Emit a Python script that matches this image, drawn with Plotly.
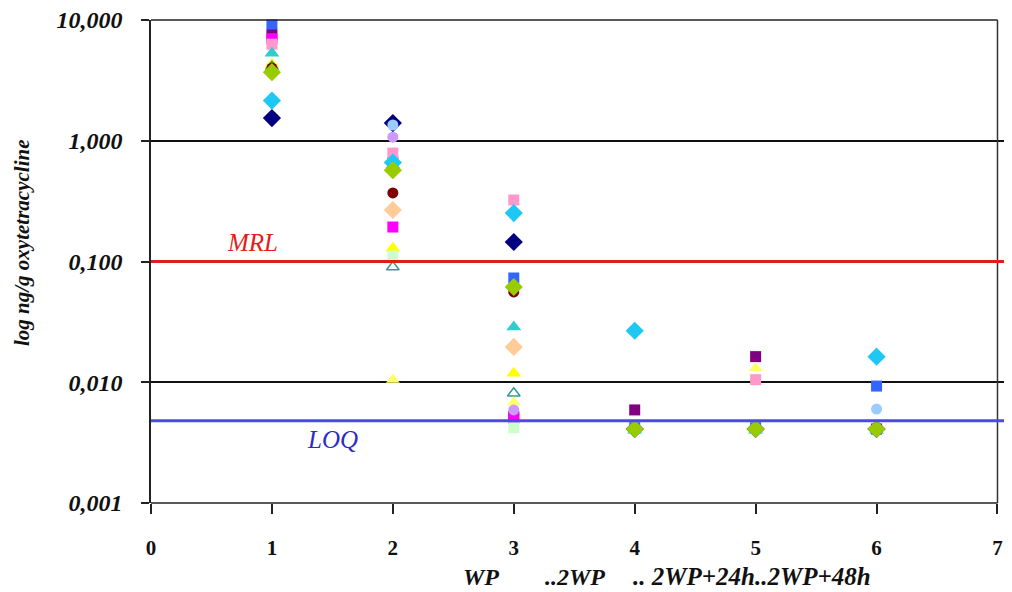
import math
import plotly.graph_objects as go

# ---- data ----
x_points = [1, 2, 3, 4, 5, 6]
x_ticks = [0, 1, 2, 3, 4, 5, 6, 7]
y_ticks = [0.001, 0.01, 0.1, 1, 10]
y_ticktext = ["0,001", "0,010", "0,100", "1,000", "10,000"]
mrl_value = 0.1
loq_value = 0.0048

navy = [1.54, 1.40, 0.145, 0.0041, 0.0041, 0.0041]
blue_sq = [9.1, 0.66, 0.073, 0.0042, 0.0042, 0.0093]
purple_sq = [7.5, None, 0.0052, 0.0059, 0.0163, 0.0041]
magenta_sq = [7.0, 0.193, 0.0050, None, None, None]
pink_sq = [6.3, 0.79, 0.323, None, 0.0105, None]
teal_tri = [5.3, 0.63, 0.0287, 0.0040, 0.0040, 0.0040]
yellow_tri = [4.3, 0.129, 0.0119, None, None, None]
open_tri = [4.1, 0.090, 0.0081, None, None, None]
lightyellow_tri = [None, 0.0105, 0.0068, None, 0.0131, None]
lavender_c = [None, 1.07, 0.0059, None, None, None]
lightblue_c = [None, 1.35, None, None, None, 0.0060]
darkred_c = [4.0, 0.37, 0.056, None, None, None]
peach_d = [None, 0.267, 0.0196, None, None, None]
lightgreen_sq = [None, 0.111, 0.0042, None, None, None]
cyan_d = [2.15, 0.66, 0.252, 0.0267, None, 0.0163]
yellowgreen_d = [3.7, 0.57, 0.0615, 0.0041, 0.0041, 0.0041]

series = [
    (navy, "#000080", "diamond", 14),
    (blue_sq, "#3366FF", "square", 11),
    (purple_sq, "#800080", "square", 11),
    (magenta_sq, "#FF00FF", "square", 11),
    (pink_sq, "#FF99CC", "square", 11),
    (teal_tri, "#33CCCC", "triangle-up", 13),
    (yellow_tri, "#FFFF00", "triangle-up", 13),
    (open_tri, "#339999", "triangle-up-open", 11),
    (lightyellow_tri, "#FFFF66", "triangle-up", 12),
    (lavender_c, "#CC99FF", "circle", 11),
    (lightblue_c, "#99CCFF", "circle", 11),
    (darkred_c, "#800000", "circle", 11),
    (peach_d, "#FFCC99", "diamond", 14),
    (lightgreen_sq, "#CCFFCC", "square", 11),
    (cyan_d, "#1EC8F5", "diamond", 14),
    (yellowgreen_d, "#99CC00", "diamond", 14),
]

fig = go.Figure()
for vals, color, sym, size in series:
    xs = [x for x, v in zip(x_points, vals) if v is not None]
    ys = [v for v in vals if v is not None]
    fig.add_trace(go.Scatter(
        x=xs, y=ys, mode="markers",
        marker=dict(symbol=sym, color=color, size=size,
                    line=dict(width=1.5 if "open" in sym else 0, color=color)),
        showlegend=False, cliponaxis=False,
    ))

serif = '"Liberation Serif", "Times New Roman", Times, serif'
axis_col = "#222222"

# frame: top and bottom edges end at x = 7, right border at x = 7
fig.add_shape(type="line", xref="x", yref="paper", x0=0, x1=7, y0=1, y1=1,
              line=dict(color=axis_col, width=1.5))
fig.add_shape(type="line", xref="x", yref="paper", x0=0, x1=7, y0=0, y1=0,
              line=dict(color=axis_col, width=1.5))
fig.add_shape(type="line", xref="x", yref="paper", x0=7, x1=7, y0=0, y1=1,
              line=dict(color="#333333", width=1.5))

# reference lines
fig.add_shape(type="line", xref="x", yref="y", x0=0, x1=7.12, y0=mrl_value, y1=mrl_value,
              line=dict(color="#DD1F1A", width=3), layer="above")
fig.add_shape(type="line", xref="x", yref="y", x0=0, x1=7.12, y0=loq_value, y1=loq_value,
              line=dict(color="#4A4AE6", width=3), layer="above")

fig.add_annotation(x=0.84, y=math.log10(mrl_value), xref="x", yref="y", yshift=19,
                   text="<i>MRL</i>", showarrow=False,
                   font=dict(family=serif, size=25, color="#DD1F1A"))
fig.add_annotation(x=1.5, y=math.log10(loq_value), xref="x", yref="y", yshift=-19,
                   text="<i>LOQ</i>", showarrow=False,
                   font=dict(family=serif, size=25, color="#2B2BC8"))

# y-axis title
fig.add_annotation(x=-0.15, y=0.538, xref="paper", yref="paper",
                   text="<b><i>log ng/g oxytetracycline</i></b>",
                   textangle=-90, showarrow=False, xanchor="center", yanchor="middle",
                   font=dict(family=serif, size=21, color="#111111"))

# bottom labels
bottom_labels = ["WP", "..2WP", ".. 2WP+24h..2WP+48h"]
bottom_pos = [2.56, 3.24, 3.97]
bottom_sizes = [24, 24, 25]
for lab, xp, fs in zip(bottom_labels, bottom_pos, bottom_sizes):
    fig.add_annotation(x=xp, y=-0.153, xref="x", yref="paper",
                       text="<b><i>" + lab + "</i></b>",
                       showarrow=False, xanchor="left", yanchor="middle",
                       font=dict(family=serif, size=fs, color="#111111"))

# page body has an 8px margin, so the figure is shrunk by 8px and margins compensate
fig.update_layout(
    width=1004, height=584,
    margin=dict(l=143, r=0, t=12, b=89, autoexpand=False),
    paper_bgcolor="white", plot_bgcolor="white",
    xaxis=dict(range=[0, 7.12], tickvals=x_ticks,
               ticktext=["<b>%d</b>" % t for t in x_ticks],
               showgrid=False, zeroline=False, automargin=False,
               showline=False,
               ticks="outside", ticklen=10, tickcolor=axis_col, tickwidth=1.5,
               ticklabelstandoff=16,
               tickfont=dict(family=serif, size=21, color="#111111")),
    yaxis=dict(type="log", range=[-3, 1], tickvals=y_ticks,
               ticktext=["<b><i>" + t + "</i></b>" for t in y_ticktext],
               showgrid=True, gridcolor="#111111", gridwidth=1.5, zeroline=False,
               automargin=False, ticklabeloverflow="allow",
               showline=True, linecolor=axis_col, linewidth=1.5,
               ticks="outside", ticklen=8, tickcolor=axis_col, tickwidth=1.5,
               ticklabelstandoff=14,
               tickfont=dict(family=serif, size=24, color="#111111")),
)

fig.write_html("out.html")
